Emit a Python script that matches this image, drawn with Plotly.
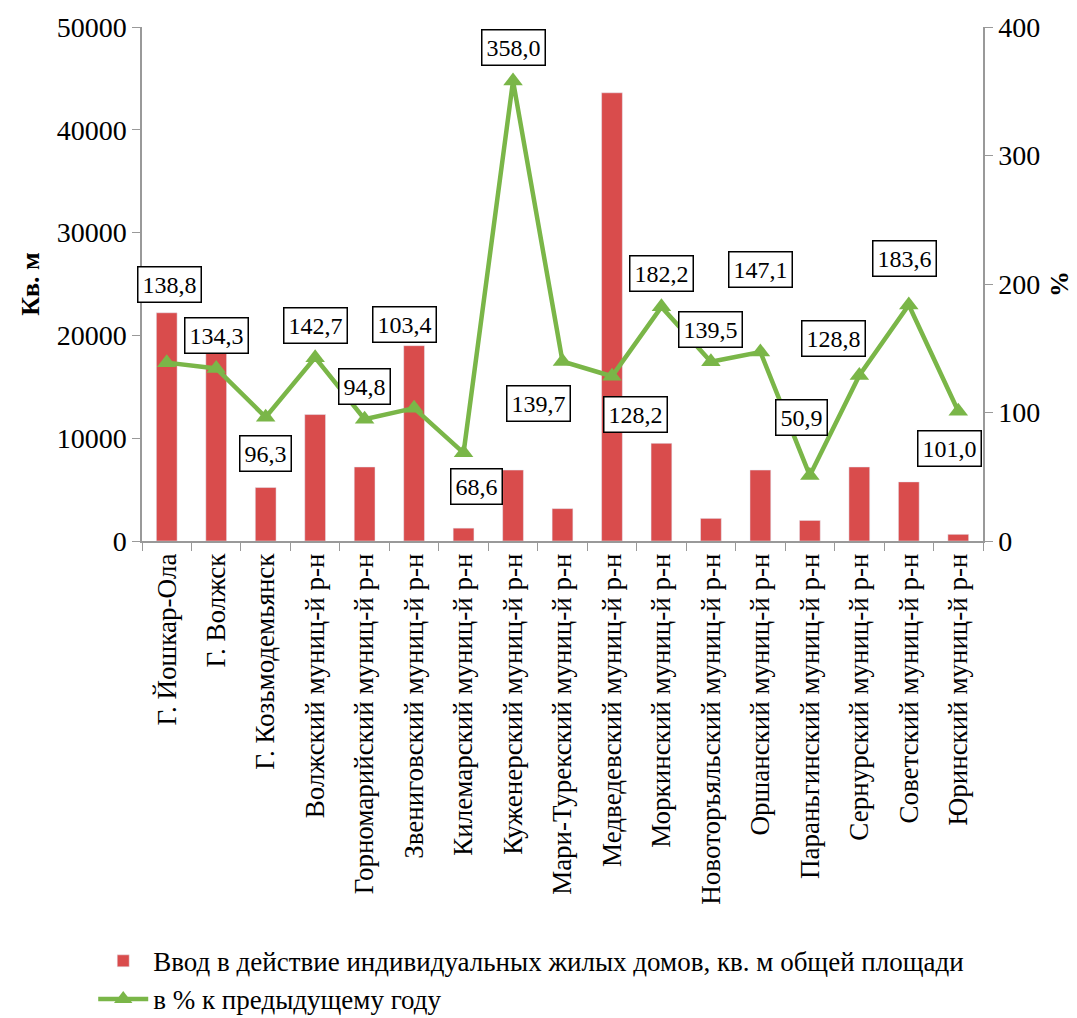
import plotly.graph_objects as go

categories = [
    "Г. Йошкар-Ола", "Г. Волжск", "Г. Козьмодемьянск",
    "Волжский муниц-й р-н", "Горномарийский муниц-й р-н", "Звениговский муниц-й р-н",
    "Килемарский муниц-й р-н", "Куженерский муниц-й р-н", "Мари-Турекский муниц-й р-н",
    "Медведевский муниц-й р-н", "Моркинский муниц-й р-н", "Новоторъяльский муниц-й р-н",
    "Оршанский муниц-й р-н", "Параньгинский муниц-й р-н", "Сернурский муниц-й р-н",
    "Советский муниц-й р-н", "Юринский муниц-й р-н",
]
area_values = [22200, 18800, 5200, 12300, 7200, 19000, 1250, 6900, 3150,
               43600, 9500, 2200, 6900, 2000, 7200, 5750, 650]
pct_values = [138.8, 134.3, 96.3, 142.7, 94.8, 103.4, 68.6, 358.0, 139.7,
              128.2, 182.2, 139.5, 147.1, 50.9, 128.8, 183.6, 101.0]
pct_labels = ["138,8", "134,3", "96,3", "142,7", "94,8", "103,4", "68,6", "358,0", "139,7",
              "128,2", "182,2", "139,5", "147,1", "50,9", "128,8", "183,6", "101,0"]
# label offsets (pixels) relative to each point
label_dx = [3, 0, 0, 0, 0, -10, 13, 0, -24, 24, 0, 0, 0, -8, -26, -4, -9]
label_dy = [-78, -33, 36, -32, -33, -84, 34, -33, 42, 38, -33, -32, -82, -58, -37, -47, 37]

FONT = "Liberation Serif, Times New Roman, serif"
RED = "#d94c4c"
GREEN = "#7ab648"

fig = go.Figure()
fig.add_trace(go.Bar(
    x=categories, y=area_values, marker_color=RED,
    name="Ввод в действие индивидуальных жилых домов, кв. м общей площади",
))
fig.add_trace(go.Scatter(
    x=categories, y=pct_values, yaxis="y2", mode="lines+markers",
    line=dict(color=GREEN, width=4.5),
    marker=dict(symbol="triangle-up", size=17, color=GREEN),
    name="в % к предыдущему году",
))

for c, v, t, dx, dy in zip(categories, pct_values, pct_labels, label_dx, label_dy):
    fig.add_annotation(
        x=c, y=v, xref="x", yref="y2", text=t, showarrow=True, arrowcolor="rgba(0,0,0,0)",
        ax=dx, ay=dy, font=dict(family=FONT, size=24, color="black"),
        bordercolor="black", borderwidth=1.5, borderpad=4, bgcolor="white",
    )

fig.update_layout(
    width=1077, height=1018,
    margin=dict(l=142, r=94, t=27, b=477, autoexpand=False),
    plot_bgcolor="white", paper_bgcolor="white",
    font=dict(family=FONT, size=22, color="black"),
    bargap=0.58,
    showlegend=True,
    legend=dict(
        x=-0.058, y=-0.77, xanchor="left", yanchor="top",
        font=dict(family=FONT, size=27, color="black"), tracegroupgap=6, itemwidth=50,
    ),
    xaxis=dict(
        type="category", tickangle=-90, tickfont=dict(family=FONT, size=27),
        range=[-0.5, len(categories) - 0.5],
        showline=True, linecolor="#999", linewidth=1.5, automargin=False,
        ticks="outside", tickson="boundaries", ticklen=8, tickcolor="#999",
        showgrid=False,
    ),
    yaxis=dict(
        range=[0, 50000], dtick=10000, showgrid=False, tickformat="d",
        showline=True, linecolor="#999", linewidth=1.5, automargin=False,
        ticks="outside", ticklen=8, tickcolor="#999",
        tickfont=dict(family=FONT, size=28),
        title=dict(text="<b>Кв. м</b>", font=dict(family=FONT, size=26), standoff=10),
        zeroline=False,
    ),
    yaxis2=dict(
        overlaying="y", side="right", range=[0, 400], dtick=100, showgrid=False,
        showline=True, linecolor="#999", linewidth=1.5, automargin=False,
        ticks="outside", ticklen=8, tickcolor="#999",
        tickfont=dict(family=FONT, size=28),
        title=dict(text="<b>%</b>", font=dict(family=FONT, size=26), standoff=10),
        zeroline=False,
    ),
)

fig.write_html("out.html")
